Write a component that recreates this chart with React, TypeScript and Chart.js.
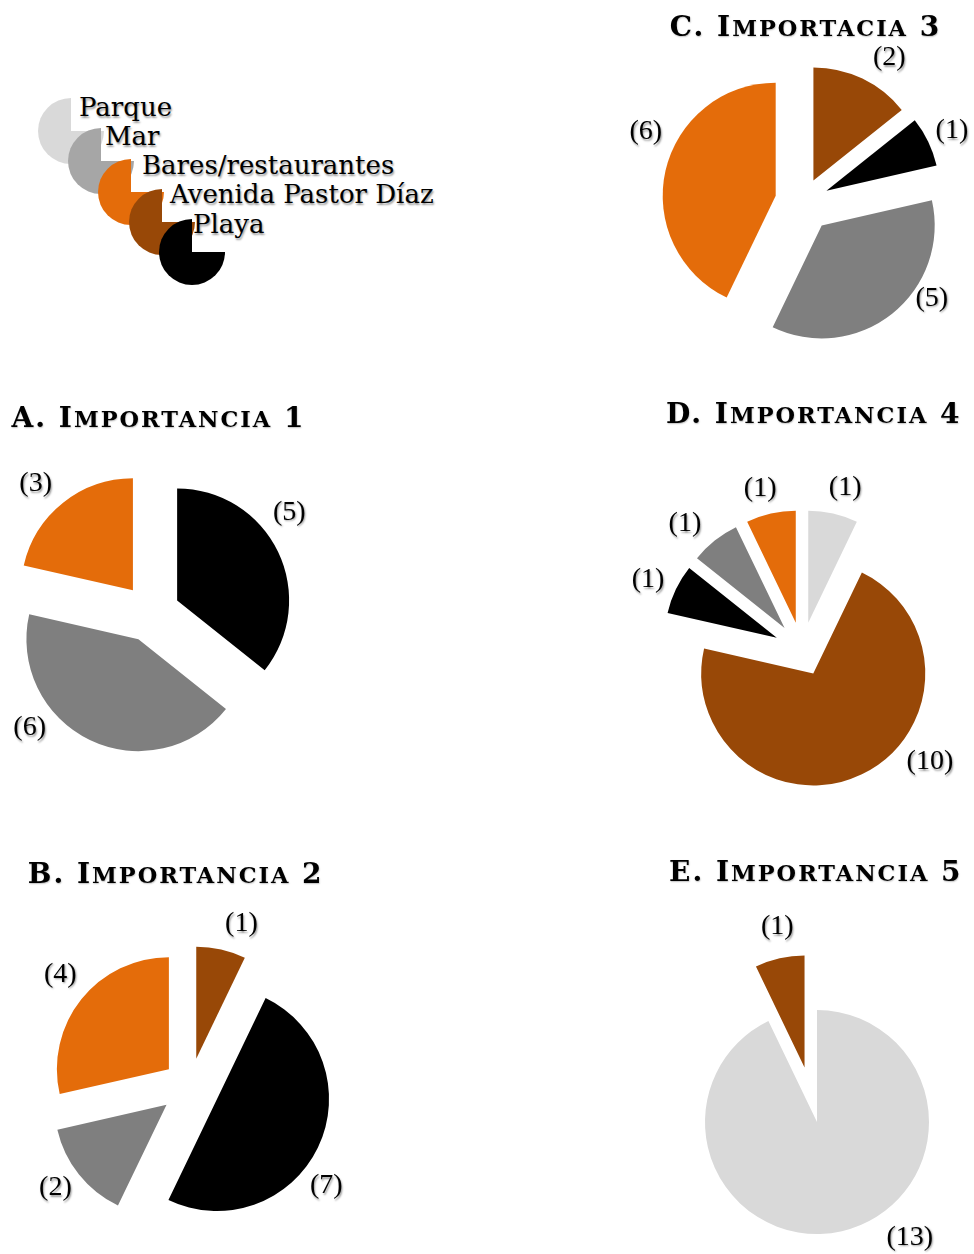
import React, { useEffect, useRef } from 'react';
import { Chart, registerables } from 'chart.js';

Chart.register(...registerables);

// ---- DATA ----
const categories = ['Parque', 'Mar', 'Bares/restaurantes', 'Avenida Pastor Díaz', 'Playa'];
// order in which the slices are laid out clockwise from 12 o'clock
const sliceOrder = ['Parque', 'Avenida Pastor Díaz', 'Playa', 'Mar', 'Bares/restaurantes'];
const importancia1 = [0, 0, 5, 6, 3];
const importancia2 = [0, 1, 7, 2, 4];
const importancia3 = [0, 2, 1, 5, 6];
const importancia4 = [1, 10, 1, 1, 1];
const importancia5 = [13, 1, 0, 0, 0];
const titles = ['A. Importancia 1', 'B. Importancia 2', 'C. Importacia 3', 'D. Importancia 4', 'E. Importancia 5'];

// ---- STYLE ----
const pieColors: Record<string, string> = {
  'Parque': '#D9D9D9',
  'Mar': '#7F7F7F',
  'Bares/restaurantes': '#E46C0A',
  'Avenida Pastor Díaz': '#984807',
  'Playa': '#000000',
};
const legendColors = ['#D9D9D9', '#A6A6A6', '#E46C0A', '#984807', '#000000'];
const DEJAVU = '"DejaVu Serif", serif';
const LIBSERIF = '"Liberation Serif", serif';

type PieLayout = {
  cx: number; cy: number; radius: number;
  explode: number[]; labelAngle: number[]; labelDist: number[];
  titleX: number; titleBase: number;
};

const SIZE = 480;

const layouts: PieLayout[] = [
  { cx: 150.5, cy: 613, radius: 112, explode: [0, 0, 29, 29, 29],
    labelAngle: [0, 0, 54, 226.6, 318.2], labelDist: [0, 0, 171, 167, 173],
    titleX: 158.5, titleBase: 427.5 },
  { cx: 190, cy: 1086, radius: 112, explode: [0, 28, 30, 30, 27],
    labelAngle: [0, 17.6, 126.3, 232.8, 310.7], labelDist: [0, 170, 169, 169, 171],
    titleX: 175.7, titleBase: 884 },
  { cx: 803, cy: 202, radius: 113, explode: [0, 24, 26, 30, 28],
    labelAngle: [0, 30.9, 64.5, 126.9, 294], labelDist: [0, 168, 165, 161, 172],
    titleX: 805.5, titleBase: 37 },
  { cx: 802, cy: 650, radius: 112, explode: [28, 26, 28, 28, 28],
    labelAngle: [14.9, 131.2, 294.4, 317.1, 345.5], labelDist: [168, 170, 169, 172, 167],
    titleX: 813.8, titleBase: 424 },
  { cx: 816.5, cy: 1122, radius: 112, explode: [0, 56, 0, 0, 0],
    labelAngle: [141.2, 348.5, 0, 0, 0], labelDist: [148, 199, 0, 0, 0],
    titleX: 815.8, titleBase: 882 },
];

const series = [importancia1, importancia2, importancia3, importancia4, importancia5];

const LABEL_SIZE = 28;

function PieChart({ values, layout }: { values: number[]; layout: PieLayout }) {
  const ref = useRef<HTMLCanvasElement | null>(null);
  useEffect(() => {
    const canvas = ref.current;
    if (!canvas) return;
    const explodePlugin = {
      id: 'explodeSlices',
      afterDatasetUpdate(chart: any, args: any) {
        args.meta.data.forEach((arc: any, i: number) => {
          const mid = (arc.startAngle + arc.endAngle) / 2;
          const d = layout.explode[i] || 0;
          arc.x += Math.cos(mid) * d;
          arc.y += Math.sin(mid) * d;
        });
      },
    };
    const labelPlugin = {
      id: 'sliceLabels',
      afterDatasetsDraw(chart: any) {
        const { ctx, chartArea } = chart;
        const cx = (chartArea.left + chartArea.right) / 2;
        const cy = (chartArea.top + chartArea.bottom) / 2;
        const data = chart.data.datasets[0].data as number[];
        ctx.save();
        ctx.font = `${LABEL_SIZE}px ${LIBSERIF}`;
        ctx.textAlign = 'center';
        ctx.textBaseline = 'alphabetic';
        ctx.fillStyle = '#000';
        ctx.shadowColor = 'rgba(0,0,0,0.4)';
        ctx.shadowOffsetX = 1;
        ctx.shadowOffsetY = 1.5;
        ctx.shadowBlur = 2;
        data.forEach((v, i) => {
          if (!v) return;
          const a = (layout.labelAngle[i] * Math.PI) / 180;
          const d = layout.labelDist[i];
          ctx.fillText(`(${v})`, cx + d * Math.sin(a), cy - d * Math.cos(a) + 0.26 * LABEL_SIZE);
        });
        ctx.restore();
      },
    };
    const chart = new Chart(canvas, {
      type: 'pie',
      data: {
        labels: sliceOrder,
        datasets: [{
          data: values,
          backgroundColor: sliceOrder.map((c) => pieColors[c]),
          borderWidth: 0,
          radius: layout.radius,
        } as any],
      },
      options: {
        responsive: false,
        animation: false,
        events: [],
        layout: { padding: 0 },
        plugins: { legend: { display: false }, tooltip: { enabled: false } },
      },
      plugins: [explodePlugin, labelPlugin],
    });
    return () => chart.destroy();
  }, [values, layout]);
  return (
    <canvas
      ref={ref}
      width={SIZE}
      height={SIZE}
      style={{ position: 'absolute', left: layout.cx - SIZE / 2, top: layout.cy - SIZE / 2, width: SIZE, height: SIZE }}
    />
  );
}

const TITLE_SIZE = 28;
const LEGEND_SIZE = 26;
const legendCenter0 = [70.5, 131];
const legendStep = [30.4, 30.3];
const legendR = 33;
const legendTextX = [79, 105, 142, 170, 193];
const legendTextBase = [116, 145, 173.5, 203, 232.5];

function Legend() {
  return (
    <>
      {categories.map((c, i) => {
        const x = legendCenter0[0] + legendStep[0] * i;
        const y = legendCenter0[1] + legendStep[1] * i;
        return (
          <div key={'m' + c} style={{
            position: 'absolute', left: x - legendR, top: y - legendR, width: legendR * 2, height: legendR * 2,
            borderRadius: '50%',
            background: `conic-gradient(rgba(255,255,255,0) 0deg 90deg, ${legendColors[i]} 90deg 360deg)`,
          }} />
        );
      })}
      {categories.map((c, i) => (
        <div key={'t' + c} style={{
          position: 'absolute', left: legendTextX[i], top: legendTextBase[i] - 0.846 * LEGEND_SIZE,
          fontFamily: DEJAVU, fontSize: LEGEND_SIZE, lineHeight: `${LEGEND_SIZE}px`, whiteSpace: 'nowrap',
          color: '#000', textShadow: '1px 1.5px 2px rgba(0,0,0,0.4)',
        }}>{c}</div>
      ))}
    </>
  );
}

// renders a title in small caps: lowercase letters become smaller capitals
function SmallCaps({ text }: { text: string }) {
  const parts: { small: boolean; s: string }[] = [];
  for (const ch of text) {
    const small = ch !== ch.toUpperCase();
    const last = parts[parts.length - 1];
    if (last && last.small === small) last.s += ch;
    else parts.push({ small, s: ch });
  }
  return (
    <>
      {parts.map((p, i) =>
        p.small ? (
          <span key={i} style={{ fontSize: '0.8em', textTransform: 'uppercase' }}>{p.s}</span>
        ) : (
          <span key={i}>{p.s}</span>
        ),
      )}
    </>
  );
}

export default function App() {
  return (
    <div style={{ position: 'absolute', left: 0, top: 0, width: 974, height: 1254, overflow: 'hidden', background: '#fff' }}>
      <Legend />
      {layouts.map((l, i) => (
        <PieChart key={i} values={series[i]} layout={l} />
      ))}
      {layouts.map((l, i) => (
        <div key={'title' + i} style={{
          position: 'absolute', left: l.titleX - 200, width: 400, top: l.titleBase - 0.846 * TITLE_SIZE,
          textAlign: 'center', fontFamily: DEJAVU, fontWeight: 'bold', fontSize: TITLE_SIZE,
          lineHeight: `${TITLE_SIZE}px`, whiteSpace: 'nowrap', color: '#000',
          letterSpacing: '2px', textShadow: '0.5px 1px 1.5px rgba(0,0,0,0.25)',
        }}><SmallCaps text={titles[i]} /></div>
      ))}
    </div>
  );
}
